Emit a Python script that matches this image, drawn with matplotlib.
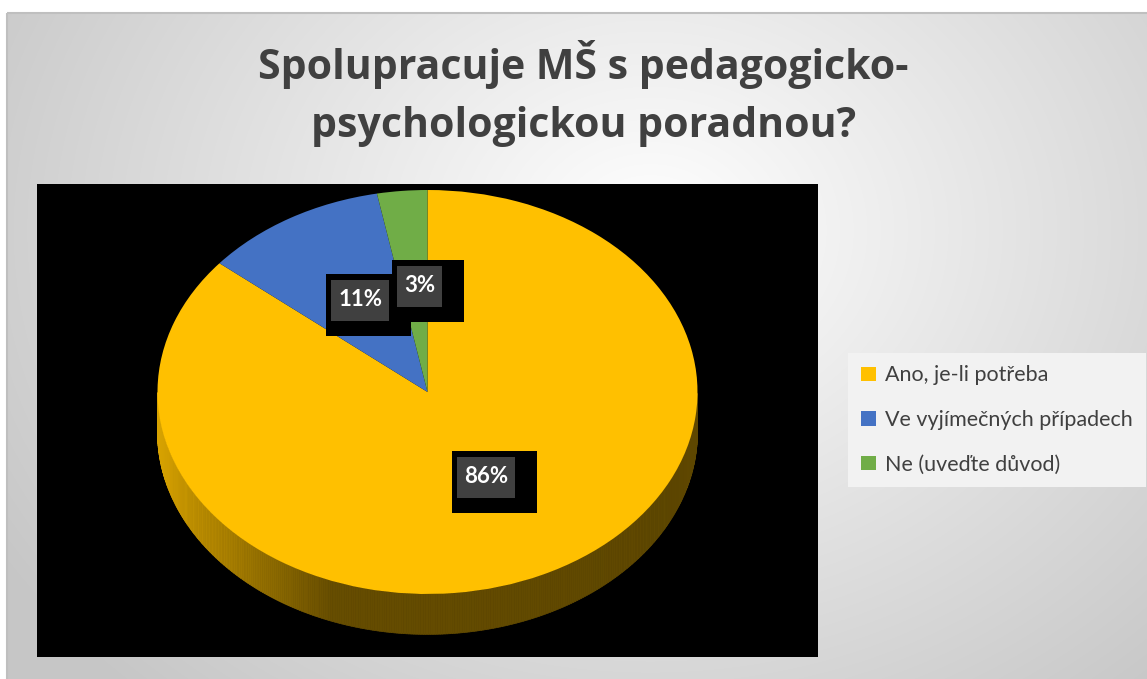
import matplotlib
matplotlib.use("Agg")
import matplotlib.pyplot as plt
from matplotlib.patches import Rectangle, Patch
from matplotlib.collections import PolyCollection
import numpy as np

# data
kategorie = ["Ano, je-li potřeba", "Ve vyjímečných případech", "Ne (uveďte důvod)"]
hodnoty = [86, 11, 3]
barvy = ["#FFC000", "#4472C4", "#70AD47"]
titulek = ["Spolupracuje MŠ s pedagogicko-", "psychologickou poradnou?"]

plt.rcParams['font.family'] = ['Lato', 'DejaVu Sans']

W, H = 1147, 679
fig = plt.figure(figsize=(W / 100, H / 100), dpi=100)

# pozadi - radialni prechod
bg = fig.add_axes([0, 0, 1, 1])
yy, xx = np.mgrid[0:H, 0:W]
r = np.sqrt(((xx - 650) / 760.0) ** 2 + ((yy - 230) / 620.0) ** 2)
val = 1 - np.clip(r, 0, 1) * 0.22
img = np.dstack([val, val, val])
img[:13, :, :] = 1
img[:, :7, :] = 1
bg.imshow(img, extent=(0, W, H, 0), aspect='auto')
bg.add_patch(Rectangle((7, 13), W, H, fill=False, edgecolor='#bfbfbf', linewidth=1.5))
bg.set_xlim(0, W)
bg.set_ylim(H, 0)
bg.axis('off')

# titulek
fig.text(0.5085, 1 - 79 / H, titulek[0], ha='center', va='baseline',
         fontsize=29.5, fontweight='bold', color='#404040', family=['Open Sans', 'DejaVu Sans'])
fig.text(0.5085, 1 - 137 / H, titulek[1], ha='center', va='baseline',
         fontsize=29.5, fontweight='bold', color='#404040', family=['Open Sans', 'DejaVu Sans'])

# oblast grafu (cerna)
px0, px1, py0, py1 = 37, 818, 184, 657
ax = fig.add_axes([px0 / W, 1 - py1 / H, (px1 - px0) / W, (py1 - py0) / H])
ax.set_facecolor('black')

cx, cy = 427.5, 392  # stred kolace v pixelech
a, b = 270.0, 202.0   # poloosy elipsy
hloubka = 0.2         # tloustka bocnice

wedges, texts, autotexts = ax.pie(hodnoty, colors=barvy, startangle=90, counterclock=False,
                                  autopct='%1.0f%%', pctdistance=0.53, frame=True,
                                  wedgeprops=dict(linewidth=0, zorder=2))
ax.set_aspect('auto')
ax.set_xlim(-(cx - px0) / a, (px1 - cx) / a)
ax.set_ylim(-(py1 - cy) / b, (cy - py0) / b)
ax.set_xticks([])
ax.set_yticks([])
for s in ax.spines.values():
    s.set_visible(False)

# bocnice kolace (3D efekt)
for w, c in zip(wedges, barvy):
    t = np.linspace(w.theta1, w.theta2, 600)
    t = t[np.sin(np.radians(t)) <= 0.0]
    if len(t) < 2:
        continue
    tr = np.radians(t)
    quads, cols = [], []
    base = np.array(matplotlib.colors.to_rgb(c))
    for i in range(len(tr) - 1):
        x1, x2 = np.cos(tr[i]), np.cos(tr[i + 1])
        y1, y2 = np.sin(tr[i]), np.sin(tr[i + 1])
        quads.append([(x1, y1), (x2, y2), (x2, y2 - hloubka), (x1, y1 - hloubka)])
        f = np.interp((x1 + x2) / 2, [-1, -0.85, -0.35, 1], [0.85, 0.74, 0.40, 0.37])
        cols.append(base * f)
    ax.add_collection(PolyCollection(quads, facecolors=cols, edgecolors=cols,
                                     linewidths=0.5, zorder=1))

# popisky - posun podle perspektivy
vzdalenosti = [0.46, 0.53, 0.53]
for w, t, d in zip(wedges, autotexts, vzdalenosti):
    th = np.radians((w.theta1 + w.theta2) / 2)
    t.set_position((d * np.cos(th) + 0.02, d * np.sin(th)))
    t.set_color('white')
    t.set_fontsize(16)
    t.set_fontweight('bold')
    t.set_zorder(5)

fig.canvas.draw()
inv = ax.transData.inverted()
for t in autotexts:
    bb = t.get_window_extent()
    gx0, gy0 = bb.x0 - 7, bb.y0 - 11
    gx1, gy1 = bb.x1 + 7, bb.y1 + 9
    (d0x, d0y) = inv.transform((gx0 - 5, gy0 - 15))
    (d1x, d1y) = inv.transform((gx1 + 22, gy1 + 6))
    ax.add_patch(Rectangle((d0x, d0y), d1x - d0x, d1y - d0y, facecolor='black',
                           edgecolor='none', zorder=3))
    (e0x, e0y) = inv.transform((gx0, gy0))
    (e1x, e1y) = inv.transform((gx1, gy1))
    ax.add_patch(Rectangle((e0x, e0y), e1x - e0x, e1y - e0y, facecolor='#404040',
                           edgecolor='none', zorder=4))

# legenda
handles = [Patch(facecolor=c, edgecolor='none') for c in barvy]
leg = fig.legend(handles, kategorie, loc='center left',
                 bbox_to_anchor=(848 / W, 1 - 420 / H), borderaxespad=0,
                 fontsize=15.5, frameon=True, fancybox=False, framealpha=1,
                 facecolor='#f2f2f2', edgecolor='none', handlelength=0.68,
                 handleheight=0.68, handletextpad=0.45, labelspacing=1.14,
                 borderpad=0.6)
for tx in leg.get_texts():
    tx.set_color('#404040')

fig.savefig('out.png', dpi=100)
